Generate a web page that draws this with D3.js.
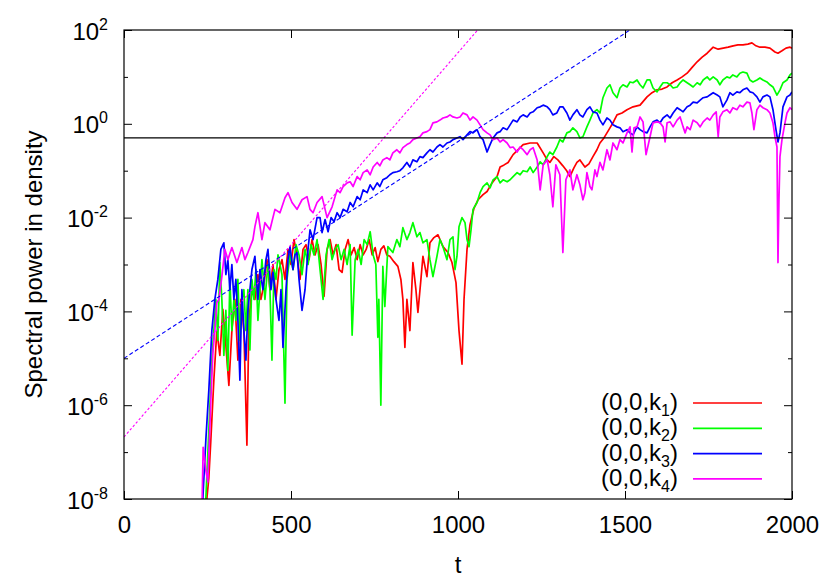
<!DOCTYPE html>
<html><head><meta charset="utf-8">
<script src="https://cdn.jsdelivr.net/npm/d3@7"></script>
<style>body{margin:0;background:#fff} text{font-family:"Liberation Sans",Arial,sans-serif;fill:#000}</style>
</head><body><svg id="c" width="830" height="581"></svg>
<script>
// ---------- data ----------
const seriesLabels = ["1","2","3","4"]; // subscripts of k
const seriesColors = ["#ff0000","#00ff00","#0000ff","#ff00ff"];
const xTicks = [0,500,1000,1500,2000];
const yMajorExp = [2,0,-2,-4,-6,-8];
const yMinor = [1e1,1e-1,1e-3,1e-5,1e-7];
const threshold = 0.5;
const fitBlue = [[0,1e-5],[1515,1e2]];
const fitMagenta = [[0,2.1e-7],[1059,1e2]];

const tRed = [248,254,260,269,278,287,296,305,314,323,332,341,350,359,368,374,383,392,401,410,419,428,437,446,455,464,473,482,491,500,509,518,527,536,545,554,563,572,581,590,599,608,617,626,635,644,653,662,671,680,689,698,707,716,725,734,743,752,760,769,778,787,796,808,820,829,835,841,847,856,865,874,880,889,895,907,916,928,940,955,970,982,994,1003,1012,1018,1027,1036,1048,1060,1075,1087,1102,1117,1126,1138,1150,1165,1180,1195,1216,1237,1255,1267,1275,1287,1299,1314,1326,1335,1347,1356,1365,1380,1392,1404,1416,1425,1437,1446,1455,1464,1476,1491,1506,1524,1545,1566,1581,1596,1611,1626,1641,1656,1671,1686,1701,1716,1731,1746,1764,1779,1794,1809,1824,1838,1853,1868,1880,1892,1904,1919,1934,1949,1958,1970,1982,1994,2000];
const vRed = [1e-8,2.8e-8,1.8e-7,3.4e-6,3.9e-5,1.15e-5,1.1e-4,1.9e-5,2.65e-6,3.9e-5,
1.8e-4,9.1e-6,1.8e-4,3.9e-5,1.4e-7,6.4e-5,2.9e-4,1.8e-4,6.1e-4,1.8e-4,
3.75e-4,1.27e-3,2.9e-4,1e-3,1.8e-4,7.8e-4,1.27e-3,4.8e-4,2.1e-3,1e-3,
3.4e-3,1.6e-3,4.8e-4,2.1e-3,2.65e-3,1.27e-3,3.4e-3,1.6e-3,2.65e-3,1e-3,
2.1e-4,2.1e-3,3.4e-3,1.6e-3,2.65e-3,7.8e-4,6.8e-4,2.1e-3,3.4e-3,1.6e-3,
2.3e-3,1.27e-3,2.65e-3,1.6e-3,2.1e-3,3.4e-3,1.6e-3,2.3e-3,1.15e-3,2.1e-3,
2.5e-3,1.6e-3,1.5e-3,1.15e-3,9.1e-4,4.8e-4,1.8e-4,1.7e-5,1.8e-4,3.9e-5,
1.1e-3,2.9e-4,9.5e-5,4.8e-4,1.5e-3,5.5e-4,2.9e-3,3.75e-3,4.3e-3,2.4e-3,
1.8e-3,1.1e-3,4.1e-4,3.9e-5,7.5e-6,1.8e-4,2.1e-3,7.1e-3,1.6e-2,2.4e-2,
3.1e-2,3.6e-2,5.5e-2,7.5e-2,1.2e-1,1.33e-1,1.5e-1,2.2e-1,2.8e-1,3.6e-1,
3.9e-1,3.9e-1,2.4e-1,1.7e-1,1.5e-1,2.0e-1,1.7e-1,1.27e-1,9.8e-2,7.5e-2,
1.15e-1,1.5e-1,1.7e-1,1.2e-1,1.4e-1,2.0e-1,2.8e-1,3.9e-1,5.0e-1,6.4e-1,
8.2e-1,1.05,1.55,1.7,2.0,2.3,2.5,3.75,4.6,5.3,
5.5,6.1,7.5,8.6,10,12,16,21,26.5,32,
43,39,41,43,46,48,48,50,53,46,
43,43,41,34,32,36,41,43,41];

const green = [[245,1e-8],[254,2.9e-7],[263,9.1e-6],[269,3.9e-5],[275,1.8e-4],[281,2.4e-5],[287,1.1e-3],[293,1.8e-4],[299,1.15e-5],[305,1.05e-4],
[311,5.5e-6],[317,4.8e-4],[323,3.9e-5],[329,1.8e-4],[335,6.4e-5],[341,4.8e-4],[347,2.4e-5],[353,1.8e-4],[359,2.9e-4],[365,3.9e-5],
[371,2.9e-4],[377,1.5e-5],[383,4.8e-4],[389,1.8e-4],[395,7.8e-4],[401,6.4e-5],[407,2.9e-4],[413,1.27e-3],[422,1.8e-4],[431,1e-3],
[437,2.9e-4],[443,9.1e-6],[449,7.8e-4],[455,4.8e-4],[461,1.6e-3],[467,1e-3],[473,6.1e-4],[482,1.1e-6],[488,4.8e-4],[497,1.6e-3],
[506,7.8e-4],[515,2.65e-3],[524,1.6e-3],[533,6.1e-4],[542,2.1e-3],[551,1e-3],[560,2.65e-3],[569,1.6e-3],[578,3.4e-3],[587,7.8e-4],
[596,1.8e-4],[605,1.6e-3],[614,3.4e-3],[623,1.27e-3],[632,2.1e-3],[641,2.65e-3],[650,1.27e-3],[659,2.1e-3],[668,1e-3],[677,2.65e-3],
[683,3.1e-5],[692,1.27e-3],[701,2.1e-3],[710,1e-3],[719,3.4e-3],[728,2.65e-3],[737,5.0e-3],[746,1.6e-3],[754,1e-3],[760,2.8e-5],
[763,1.8e-4],[769,1e-6],[775,9.1e-4],[781,1.27e-4],[790,2.4e-3],[805,1.8e-3],[817,3.4e-3],[826,2.4e-3],[835,6.1e-3],[847,3.4e-3],
[856,4.8e-3],[865,7.8e-3],[877,3.9e-3],[886,4.8e-3],[895,2.9e-3],[907,3.4e-3],[916,1.27e-3],[925,5.5e-4],[937,1.5e-3],[946,3.4e-3],
[955,2.4e-3],[967,1.27e-3],[976,3.4e-3],[985,3.9e-3],[991,7.8e-4],[997,1.5e-3],[1003,6.4e-3],[1012,1e-2],[1021,7.8e-3],[1027,3.4e-3],
[1033,2.4e-3],[1039,5.5e-3],[1045,1.5e-2],[1057,2.1e-2],[1066,3.4e-2],[1075,4.6e-2],[1087,5.5e-2],[1096,4.3e-2],[1105,6.4e-2],[1117,7.5e-2],
[1126,5.5e-2],[1135,6.4e-2],[1147,5.8e-2],[1156,6.4e-2],[1165,7.5e-2],[1177,9.1e-2],[1186,8.2e-2],[1195,1.0e-1],[1207,9.5e-2],[1216,1.2e-1],
[1225,9.1e-2],[1237,1.2e-1],[1246,1.55e-1],[1255,1.33e-1],[1267,2.0e-1],[1275,2.5e-1],[1284,2.2e-1],[1296,3.2e-1],[1305,4.6e-1],[1314,4.1e-1],
[1326,6.4e-1],[1335,6.8e-1],[1344,8.2e-1],[1356,6.8e-1],[1365,5.0e-1],[1374,5.3e-1],[1386,8.6e-1],[1395,1.2],[1404,1.7],[1416,2.0],
[1425,1.7],[1434,3.6],[1446,5.8],[1455,6.8],[1464,4.6],[1476,3.6],[1485,5.8],[1494,6.8],[1506,6.1],[1515,7.8],
[1524,7.5],[1536,8.6],[1545,6.8],[1554,5.8],[1566,8.6],[1575,8.6],[1584,5.8],[1596,4.8],[1605,6.1],[1614,7.5],
[1626,7.5],[1635,6.8],[1644,5.8],[1656,6.1],[1665,7.5],[1674,8.6],[1686,7.5],[1695,6.8],[1704,6.1],[1716,7.5],
[1725,6.8],[1734,8.6],[1746,10],[1754,8.6],[1764,10],[1776,8.6],[1784,6.8],[1793,8.6],[1805,10],[1814,9.5],
[1823,11],[1835,10],[1844,12],[1853,12.7],[1865,12],[1874,8.6],[1883,7.8],[1895,8.6],[1904,9.5],[1913,8.6],
[1925,7.8],[1934,6.8],[1943,6.1],[1955,4.1],[1964,5.3],[1973,7.5],[1985,8.6],[1994,11],[2000,12]];

const blue = [[236,1e-8],[245,1.8e-7],[254,2.1e-6],[263,3.9e-5],[272,1.8e-4],[281,4.8e-4],[290,2.1e-3],[299,2.9e-3],[305,6.1e-4],[311,1.27e-3],
[317,2.9e-4],[323,1e-3],[329,1.8e-4],[335,4.8e-4],[341,6.4e-5],[347,3.4e-6],[353,2.9e-4],[359,3.9e-5],[365,9.1e-6],[371,1.05e-4],
[377,2.9e-4],[383,7.8e-4],[392,1.5e-3],[401,1.8e-4],[407,7.8e-4],[416,2.9e-4],[425,1.27e-3],[431,2.1e-3],[440,2.9e-4],[446,6.8e-4],
[455,1.8e-4],[464,6.4e-5],[470,2.9e-4],[476,1.7e-5],[485,2.9e-4],[491,1.27e-3],[497,2.4e-3],[506,7.8e-4],[512,1.6e-3],[518,1.8e-3],
[524,4.8e-4],[533,1.05e-4],[542,2.9e-4],[551,2.1e-3],[557,5.5e-3],[566,3.4e-3],[578,1e-2],[587,1e-2],[593,4.8e-3],[602,9.1e-3],
[611,5.0e-3],[620,1e-2],[629,8.2e-3],[638,1.27e-2],[647,1e-2],[656,1.5e-2],[668,1.33e-2],[677,2.1e-2],[686,1.7e-2],[698,2.8e-2],
[707,2.4e-2],[716,3.9e-2],[728,3.4e-2],[737,5.0e-2],[746,3.9e-2],[758,5.5e-2],[766,4.6e-2],[775,6.4e-2],[787,7.1e-2],[796,8.2e-2],
[805,9.1e-2],[817,9.5e-2],[826,1.0e-1],[835,1.15e-1],[847,1.5e-1],[856,1.2e-1],[865,1.7e-1],[877,1.55e-1],[886,2.0e-1],[895,1.9e-1],
[907,2.4e-1],[916,2.8e-1],[925,2.5e-1],[937,3.2e-1],[946,3.6e-1],[955,3.2e-1],[967,3.9e-1],[976,4.1e-1],[985,4.6e-1],[997,5.0e-1],
[1006,5.3e-1],[1015,4.6e-1],[1027,5.8e-1],[1036,6.8e-1],[1045,6.4e-1],[1057,7.5e-1],[1066,5.3e-1],[1075,4.6e-1],[1087,2.5e-1],[1096,3.6e-1],
[1105,5.0e-1],[1117,6.4e-1],[1126,6.8e-1],[1135,8.2e-1],[1147,7.5e-1],[1156,9.5e-1],[1165,1.2],[1177,1.1],[1186,1.4],[1195,1.55],
[1207,1.4],[1216,1.7],[1225,1.8],[1237,2.2],[1246,2.3],[1255,2.5],[1267,2.3],[1275,2.0],[1284,1.55],[1296,1.7],
[1305,2.3],[1314,2.3],[1326,1.7],[1335,1.2],[1344,1.55],[1356,2.0],[1365,1.55],[1374,1.4],[1386,2.0],[1395,2.3],
[1404,1.8],[1416,1.7],[1425,1.2],[1434,0.95],[1446,1.33],[1455,1.2],[1464,0.95],[1476,0.86],[1485,0.82],[1494,0.68],
[1506,0.75],[1515,0.64],[1524,0.58],[1536,0.86],[1545,0.75],[1554,0.68],[1566,0.64],[1575,0.86],[1584,1.1],[1596,1.2],
[1605,1.05],[1614,1.33],[1626,1.55],[1635,1.33],[1644,1.7],[1656,2.2],[1665,2.0],[1674,1.8],[1686,2.3],[1695,2.5],
[1704,2.9],[1716,2.8],[1725,3.2],[1734,3.6],[1746,3.75],[1754,4.1],[1764,4.6],[1776,4.1],[1784,3.75],[1793,2.3],
[1805,3.2],[1814,4.6],[1823,4.1],[1835,4.8],[1844,4.6],[1853,5.3],[1865,5.8],[1874,4.8],[1883,4.6],[1895,3.75],
[1904,2.9],[1913,3.75],[1925,4.1],[1934,3.75],[1943,2.0],[1952,0.75],[1958,0.41],[1964,0.64],[1973,2.3],[1985,3.75],
[1994,4.1],[2000,4.8]];

const magenta = [[234,1e-8],[237,1.27e-7],[245,4.1e-8],[251,2.3e-8],[260,1.27e-6],[266,1.27e-5],[272,3.9e-5],[278,1.55e-4],[284,1.8e-4],[293,5.5e-4],
[302,2.1e-3],[311,1.27e-3],[323,2.3e-3],[338,1.1e-3],[353,2.3e-3],[362,1.27e-3],[371,1.8e-3],[386,3.4e-3],[392,6.4e-3],[401,1.27e-2],
[413,3.4e-3],[422,7.8e-3],[437,5.5e-3],[452,1.5e-2],[467,1.27e-2],[482,2.65e-2],[491,3.4e-2],[503,2.1e-2],[518,1.5e-2],[533,2.4e-2],
[548,2.8e-2],[557,1.5e-2],[566,1.27e-2],[578,2.1e-2],[593,2.8e-2],[608,1e-2],[623,1.7e-2],[638,3.9e-2],[647,3.4e-2],[656,4.6e-2],
[668,5.5e-2],[677,5.8e-2],[686,4.6e-2],[698,7.5e-2],[707,6.4e-2],[716,9.1e-2],[728,1.04e-1],[737,8.2e-2],[746,1.2e-1],[758,1.5e-1],
[766,1.27e-1],[775,1.7e-1],[787,1.9e-1],[796,1.7e-1],[805,2.4e-1],[817,2.8e-1],[826,2.4e-1],[835,3.1e-1],[847,3.6e-1],[856,3.9e-1],
[865,4.6e-1],[877,5.0e-1],[886,5.3e-1],[895,6.4e-1],[907,6.8e-1],[916,7.5e-1],[925,1.05],[937,1.1],[946,1.2],[955,1.33],
[967,1.4],[976,1.55],[985,1.4],[997,1.33],[1006,1.4],[1015,1.7],[1027,1.55],[1036,1.2],[1045,1.4],[1057,1.2],
[1066,0.95],[1075,0.75],[1087,0.64],[1096,0.58],[1105,0.46],[1117,0.5],[1126,0.41],[1135,0.46],[1147,0.39],[1156,0.31],
[1165,0.32],[1177,0.25],[1186,0.32],[1195,0.28],[1207,0.22],[1216,0.28],[1225,0.31],[1237,0.17],[1246,3.9e-2],[1255,0.133],
[1267,0.17],[1275,8.2e-2],[1284,1.7e-2],[1293,0.133],[1305,8.2e-2],[1314,1.8e-3],[1323,6.4e-2],[1335,0.104],[1344,3.9e-2],[1356,8.2e-2],
[1365,5.0e-2],[1374,2.4e-2],[1380,3.4e-2],[1386,9.1e-2],[1395,4.6e-2],[1401,3.9e-2],[1410,0.104],[1416,7.5e-2],[1425,0.15],[1434,0.104],
[1446,0.28],[1455,0.17],[1464,0.39],[1476,0.28],[1485,0.46],[1494,0.39],[1506,0.64],[1515,0.86],[1521,0.25],[1527,0.82],
[1536,0.86],[1545,1.4],[1554,1.1],[1563,0.22],[1575,0.53],[1584,1.05],[1596,1.1],[1605,1.05],[1614,0.86],[1620,0.41],
[1626,1.05],[1635,1.1],[1644,0.86],[1656,1.2],[1665,1.4],[1674,0.86],[1680,0.64],[1686,0.86],[1695,0.75],[1704,1.2],
[1716,1.05],[1725,0.86],[1734,1.1],[1746,1.33],[1754,1.2],[1764,1.55],[1773,1.8],[1779,0.53],[1784,1.4],[1793,1.8],
[1805,2.0],[1814,1.7],[1823,2.2],[1835,2.0],[1844,2.5],[1853,2.3],[1865,2.9],[1874,2.8],[1880,1.7],[1886,0.75],
[1895,2.0],[1904,2.5],[1913,2.2],[1925,2.0],[1934,1.7],[1943,1.05],[1949,0.53],[1955,0.32],[1958,1.1e-3],[1961,2.4e-2],
[1964,0.2],[1970,0.46],[1979,1.05],[1985,1.7],[1994,2.2],[2000,2.0]];

// ---------- drawing ----------
const red = tRed.map((t,i)=>[t,vRed[i]]).filter(d=>d[1]!==undefined);
const allSeries = [red, green, blue, magenta];

const svg = d3.select("#c");
const L=124,R=792,T=30,B=499;
const x = d3.scaleLinear().domain([0,2000]).range([L,R]);
const y = d3.scaleLog().domain([1e-8,1e2]).range([B,T]);

svg.append("defs").append("clipPath").attr("id","clip")
  .append("rect").attr("x",L).attr("y",T).attr("width",R-L).attr("height",B-T);

const line = d3.line().x(d=>x(d[0])).y(d=>y(d[1]));
const plot = svg.append("g").attr("clip-path","url(#clip)");

allSeries.forEach((s,i)=>{
  plot.append("path").datum(s).attr("d",line)
    .attr("fill","none").attr("stroke",seriesColors[i]).attr("stroke-width",1.7)
    .attr("stroke-linejoin","round");
});
plot.append("path").datum(fitBlue).attr("d",line).attr("fill","none")
  .attr("stroke","#0000ff").attr("stroke-width",1.1).attr("stroke-dasharray","4,2.5");
plot.append("path").datum(fitMagenta).attr("d",line).attr("fill","none")
  .attr("stroke","#ff00ff").attr("stroke-width",1.1).attr("stroke-dasharray","2.5,2");
plot.append("line").attr("x1",x(0)).attr("x2",x(2000)).attr("y1",y(threshold)).attr("y2",y(threshold))
  .attr("stroke","#000").attr("stroke-width",1.3);

// axes ticks (inward, mirrored)
const yMajor = yMajorExp.map(e=>Math.pow(10,e));
function styleAxis(g){ g.select(".domain").remove(); g.selectAll("line").attr("stroke","#000"); g.selectAll("text").remove(); }
svg.append("g").attr("transform",`translate(${L},0)`).call(d3.axisLeft(y).tickValues(yMajor).tickSize(-8)).call(styleAxis);
svg.append("g").attr("transform",`translate(${L},0)`).call(d3.axisLeft(y).tickValues(yMinor).tickSize(-4)).call(styleAxis);
svg.append("g").attr("transform",`translate(${R},0)`).call(d3.axisRight(y).tickValues(yMajor).tickSize(-8)).call(styleAxis);
svg.append("g").attr("transform",`translate(${R},0)`).call(d3.axisRight(y).tickValues(yMinor).tickSize(-4)).call(styleAxis);
svg.append("g").attr("transform",`translate(0,${T})`).call(d3.axisTop(x).tickValues(xTicks).tickSize(-8)).call(styleAxis);
const xb = svg.append("g").attr("transform",`translate(0,${B})`)
  .call(d3.axisBottom(x).tickValues(xTicks).tickSize(-8).tickPadding(17).tickFormat(d3.format("d")));
xb.select(".domain").remove(); xb.selectAll("line").attr("stroke","#000");
xb.selectAll("text").attr("font-size",24).attr("font-family","Liberation Sans, Arial, sans-serif").attr("fill","#000");

svg.append("rect").attr("x",L).attr("y",T).attr("width",R-L).attr("height",B-T)
  .attr("fill","none").attr("stroke","#000").attr("stroke-width",1.2);

// y tick labels 10^e
yMajorExp.forEach(e=>{
  const t = svg.append("text").attr("x",108).attr("y",y(Math.pow(10,e))+9.5)
    .attr("text-anchor","end").attr("font-size",24);
  t.append("tspan").text("10");
  t.append("tspan").attr("dy",-10).attr("font-size",16).text(String(e));
});

// axis titles
svg.append("text").attr("x",(L+R)/2).attr("y",573).attr("text-anchor","middle").attr("font-size",24).text("t");
svg.append("text").attr("transform",`translate(42,${(T+B)/2}) rotate(-90)`).attr("text-anchor","middle")
  .attr("font-size",24).text("Spectral power in density");

// legend
seriesLabels.forEach((s,i)=>{
  const yy = 403 + i*25.3;
  const t = svg.append("text").attr("x",678).attr("y",yy+7).attr("text-anchor","end").attr("font-size",24);
  t.append("tspan").text("(0,0,k");
  t.append("tspan").attr("dy",6).attr("font-size",16).text(s);
  t.append("tspan").attr("dy",-6).text(")");
  svg.append("line").attr("x1",693).attr("x2",762).attr("y1",yy).attr("y2",yy)
    .attr("stroke",seriesColors[i]).attr("stroke-width",1.7);
});
</script></body></html>
